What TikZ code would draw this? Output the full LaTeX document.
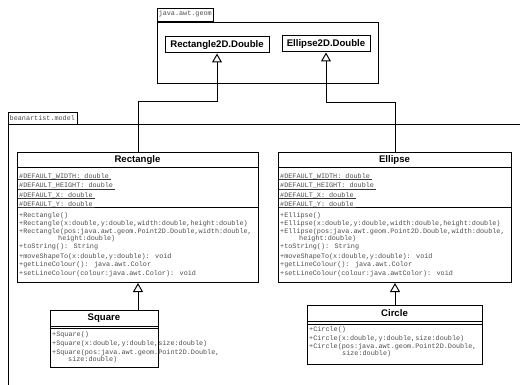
\documentclass[tikz,border=0pt]{standalone}
\usepackage{fontspec}
\newfontfamily\monof{Liberation Mono}
\newfontfamily\sansf{Liberation Sans}
\usetikzlibrary{arrows.meta}
\begin{document}
\begin{tikzpicture}[x=1pt,y=-1pt,
  box/.style={draw, line width=1pt, inner sep=0pt},
  mtxt/.style={anchor=west, inner sep=0pt, font=\monof\fontsize{6.8}{7}\selectfont, text=black!70},
  htxt/.style={inner sep=0pt, font=\sansf\bfseries\fontsize{9.6}{10}\selectfont},
  sepl/.style={line width=1pt},
  uline/.style={line width=0.5pt, black!80},
  inh/.style={line width=1pt, -{Triangle[open, width=10pt, length=9pt, line width=1pt]}},
]
\useasboundingbox (0,0) rectangle (520,385);

% ---------- package java.awt.geom ----------
\node[box, anchor=north west, minimum width=221, minimum height=61] (pgeom) at (157,22) {};
\node[box, anchor=south west, minimum width=56, minimum height=13] (tgeom) at (157,22) {};
\node[mtxt] (lgeom) at (158.5,13.5) {java.awt.geom};
\node[box, htxt, minimum width=104, minimum height=16] (r2d) at (217,45) {Rectangle2D.Double};
\node[box, htxt, minimum width=88, minimum height=16] (e2d) at (326,44) {Ellipse2D.Double};

% ---------- package beanartist.model ----------
\node[box, anchor=south west, minimum width=69, minimum height=12] (tmodel) at (8,125) {};
\node[mtxt] (lmodel) at (9.5,118.5) {beanartist.model};
\coordinate (pml) at (8,385);
\coordinate (pmr) at (520,125);
\draw[sepl] (pml) |- (pmr);

% ---------- Rectangle ----------
\node[box, anchor=north west, minimum width=241, minimum height=130] (rect) at (17,152) {};
\node[htxt] (rectn) at (137.5,160) {Rectangle};
\draw[sepl] (rect.west |- 0,168) -- (rect.east |- 0,168);
\draw[sepl] (rect.west |- 0,208) -- (rect.east |- 0,208);
\node[mtxt] (ra1) at (19,176) {\#DEFAULT\_WIDTH: double};
\node[mtxt] (ra2) at (19,185.5) {\#DEFAULT\_HEIGHT: double};
\node[mtxt] (ra3) at (19,195) {\#DEFAULT\_X: double};
\node[mtxt] (ra4) at (19,204) {\#DEFAULT\_Y: double};
\node[mtxt] (rm1) at (19,215.5) {+Rectangle()};
\node[mtxt] (rm2) at (19,224) {+Rectangle(x:double,y:double,width:double,height:double)};
\node[mtxt] (rm3) at (19,232) {+Rectangle(pos:java.awt.geom.Point2D.Double,width:double,};
\node[mtxt] (rm3b) at (58,238.5) {height:double)};
\node[mtxt] (rm4) at (19,247) {+toString(): String};
\node[mtxt] (rm5) at (19,256.5) {+moveShapeTo(x:double,y:double): void};
\node[mtxt] (rm6) at (19,265) {+getLineColour(): java.awt.Color};
\node[mtxt] (rm7) at (19,274) {+setLineColour(colour:java.awt.Color): void};

% ---------- Ellipse ----------
\node[box, anchor=north west, minimum width=233, minimum height=130] (ell) at (278,152) {};
\node[htxt] (elln) at (394.5,160) {Ellipse};
\draw[sepl] (ell.west |- 0,168) -- (ell.east |- 0,168);
\draw[sepl] (ell.west |- 0,208) -- (ell.east |- 0,208);
\node[mtxt] (ea1) at (280,176) {\#DEFAULT\_WIDTH: double};
\node[mtxt] (ea2) at (280,185.5) {\#DEFAULT\_HEIGHT: double};
\node[mtxt] (ea3) at (280,195) {\#DEFAULT\_X: double};
\node[mtxt] (ea4) at (280,204) {\#DEFAULT\_Y: double};
\node[mtxt] (em1) at (280,215.5) {+Ellipse()};
\node[mtxt] (em2) at (280,224) {+Ellipse(x:double,y:double,width:double,height:double)};
\node[mtxt] (em3) at (280,232) {+Ellipse(pos:java.awt.geom.Point2D.Double,width:double,};
\node[mtxt] (em3b) at (299,238.5) {height:double)};
\node[mtxt] (em4) at (280,247) {+toString(): String};
\node[mtxt] (em5) at (280,256.5) {+moveShapeTo(x:double,y:double): void};
\node[mtxt] (em6) at (280,265) {+getLineColour(): java.awt.Color};
\node[mtxt] (em7) at (280,274) {+setLineColour(colour:java.awtColor): void};

\foreach \n in {ra1,ra2,ra3,ra4,ea1,ea2,ea3,ea4}{
  \draw[uline] ([yshift=-1.4pt,xshift=-1pt]\n.base west) -- ([yshift=-1.4pt,xshift=2pt]\n.base east);
}

% ---------- Square ----------
\node[box, anchor=north west, minimum width=108, minimum height=57] (sq) at (50,310) {};
\node[htxt] (sqn) at (104,318) {Square};
\draw[sepl] (sq.west |- 0,326) -- (sq.east |- 0,326);
\draw[sepl] (sq.west |- 0,328.5) -- (sq.east |- 0,328.5);
\node[mtxt] (sm1) at (52,335) {+Square()};
\node[mtxt] (sm2) at (52,344) {+Square(x:double,y:double,size:double)};
\node[mtxt] (sm3) at (52,353) {+Square(pos:java.awt.geom.Point2D.Double,};
\node[mtxt] (sm3b) at (68,359.5) {size:double)};

% ---------- Circle ----------
\node[box, anchor=north west, minimum width=175, minimum height=59] (circ) at (307,305) {};
\node[htxt] (circn) at (394.5,313.5) {Circle};
\draw[sepl] (circ.west |- 0,321.5) -- (circ.east |- 0,321.5);
\draw[sepl] (circ.west |- 0,324) -- (circ.east |- 0,324);
\node[mtxt] (cm1) at (309,330) {+Circle()};
\node[mtxt] (cm2) at (309,338.5) {+Circle(x:double,y:double,size:double)};
\node[mtxt] (cm3) at (309,347) {+Circle(pos:java.awt.geom.Point2D.Double,};
\node[mtxt] (cm3b) at (342,353.5) {size:double)};

% ---------- generalisations ----------
\draw[inh] (rect.north) -- ++(0,-50) -| (r2d.south);
\draw[inh] (ell.north) -- ++(0,-49) -| (e2d.south);
\draw[inh] (sq.north -| rect.south) -- (rect.south);
\draw[inh] (circ.north) -- (ell.south);
\end{tikzpicture}
\end{document}
